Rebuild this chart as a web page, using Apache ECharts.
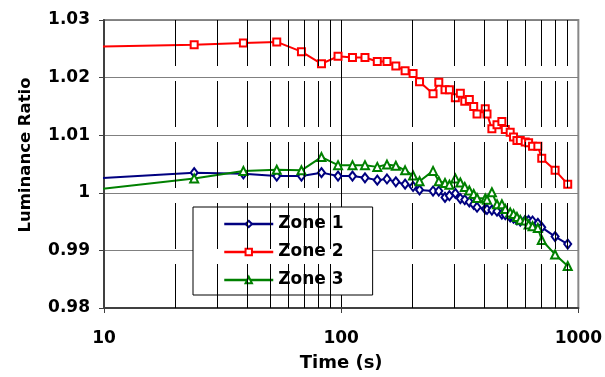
<!DOCTYPE html>
<html><head><meta charset="utf-8">
<script src="https://cdn.jsdelivr.net/npm/echarts@6/dist/echarts.min.js"></script>
<style>html,body{margin:0;padding:0;background:#fff}#c{width:605px;height:377px}</style>
</head><body><div id="c"></div>
<script>
const seriesNames = ['Zone 1', 'Zone 2', 'Zone 3'];
const times = [9.4, 24, 38.7, 53.5, 68, 82.6, 97, 111.6, 126, 142, 156, 170, 186, 201, 214, 244, 258, 274, 286, 303, 318, 332, 347, 362, 374, 405, 412, 432, 454, 476, 492, 516, 533, 551, 569, 597, 617, 641, 675, 701, 798, 902];
const zone1 = [1.0025, 1.0035, 1.0033, 1.0029, 1.0029, 1.0035, 1.0029, 1.0029, 1.0026, 1.0022, 1.0024, 1.0019, 1.0015, 1.0011, 1.0005, 1.0003, 1.0003, 0.9992, 0.9995, 0.9999, 0.9990, 0.9988, 0.9984, 0.9980, 0.9975, 0.9972, 0.9971, 0.9970, 0.9968, 0.9963, 0.9962, 0.9958, 0.9956, 0.9953, 0.9951, 0.9952, 0.9952, 0.9951, 0.9947, 0.9940, 0.9924, 0.9911];
const zone2 = [1.0254, 1.0257, 1.0260, 1.0262, 1.0245, 1.0224, 1.0237, 1.0235, 1.0235, 1.0228, 1.0228, 1.0220, 1.0212, 1.0207, 1.0193, 1.0172, 1.0192, 1.0179, 1.0179, 1.0165, 1.0173, 1.0159, 1.0162, 1.0150, 1.0137, 1.0146, 1.0137, 1.0111, 1.0118, 1.0124, 1.0110, 1.0105, 1.0097, 1.0091, 1.0091, 1.0088, 1.0087, 1.0081, 1.0081, 1.0060, 1.0039, 1.0015];
const zone3 = [1.0006, 1.0025, 1.0038, 1.0040, 1.0039, 1.0062, 1.0048, 1.0048, 1.0048, 1.0045, 1.0049, 1.0047, 1.0039, 1.0030, 1.0020, 1.0038, 1.0020, 1.0017, 1.0014, 1.0025, 1.0018, 1.0010, 1.0004, 0.9998, 0.9991, 0.9990, 0.9988, 1.0001, 0.9980, 0.9980, 0.9972, 0.9966, 0.9963, 0.9958, 0.9953, 0.9952, 0.9945, 0.9942, 0.9939, 0.9918, 0.9893, 0.9873];
const xMinorLines = [20, 30, 40, 50, 60, 70, 80, 90, 200, 300, 400, 500, 600, 700, 800, 900];
const xRange = [10, 1000];
const yRange = [0.98, 1.03];
const yStep = 0.01;

const FONT = 'DejaVu Sans';
const chart = echarts.init(document.getElementById('c'), null, {renderer: 'canvas'});

function mkSeries(name, vals, color, symbol, size) {
  return {
    name: name, type: 'line', clip: true, z: 3,
    data: times.map((t, i) => [t, vals[i]]),
    symbol: symbol, symbolSize: size, showSymbol: true,
    lineStyle: {color: color, width: 2},
    itemStyle: {color: '#fff', borderColor: color, borderWidth: 2},
    color: color,
    emphasis: {disabled: true}
  };
}

chart.setOption({
  animation: false,
  grid: {left: 104, top: 20, width: 476, height: 289, show: true, borderColor: '#888', borderWidth: 2, backgroundColor: '#fff'},
  legend: {
    data: seriesNames, orient: 'vertical', left: 193, top: 207,
    padding: [6, 29, 4, 30], itemWidth: 49, itemHeight: 8, itemGap: 6,
    backgroundColor: '#fff', borderColor: '#000', borderWidth: 1,
    lineStyle: {width: 2.5},
    textStyle: {fontFamily: FONT, fontSize: 17, fontWeight: 'bold', color: '#000', lineHeight: 22}
  },
  xAxis: {
    type: 'log', logBase: 10, min: xRange[0], max: xRange[1],
    axisLine: {show: true, lineStyle: {color: '#404040', width: 2}},
    axisTick: {show: true, length: 5, lineStyle: {color: '#404040', width: 1}},
    axisLabel: {fontFamily: FONT, fontSize: 17, fontWeight: 'bold', color: '#000', margin: 22, formatter: v => String(Math.round(v))},
    splitLine: {show: true, showMinLine: false, showMaxLine: false, lineStyle: {color: '#000', width: 1}},
    minorTick: {show: false}, minorSplitLine: {show: false},
    name: 'Time (s)', nameLocation: 'middle', nameGap: 46,
    nameTextStyle: {fontFamily: FONT, fontSize: 18, fontWeight: 'bold', color: '#000'}
  },
  yAxis: {
    type: 'value', min: yRange[0], max: yRange[1], interval: yStep,
    axisLine: {show: true, lineStyle: {color: '#404040', width: 2}},
    axisTick: {show: true, length: 5, lineStyle: {color: '#404040', width: 1}},
    axisLabel: {fontFamily: FONT, fontSize: 17, fontWeight: 'bold', color: '#000', margin: 14},
    splitLine: {show: true, lineStyle: {color: '#808080', width: 1}},
    name: 'Luminance Ratio', nameLocation: 'middle', nameGap: 70,
    nameTextStyle: {fontFamily: FONT, fontSize: 16.5, fontWeight: 'bold', color: '#000', padding: [0, 0, 0, 18]}
  },
  series: [
    {
      name: 'grid-minor', type: 'line', data: [], z: 1, silent: true,
      markLine: {
        silent: true, symbol: ['none', 'none'], label: {show: false}, animation: false,
        lineStyle: {color: '#000', width: 1, type: [46, 15], dashOffset: 0},
        emphasis: {disabled: true},
        data: xMinorLines.map(v => [{coord: [v, yRange[1]]}, {coord: [v, yRange[0]]}])
      }
    },
    mkSeries(seriesNames[0], zone1, '#000080', 'diamond', [7, 9]),
    mkSeries(seriesNames[1], zone2, '#ff0000', 'rect', 7),
    mkSeries(seriesNames[2], zone3, '#008000', 'triangle', 8)
  ]
});
</script></body></html>
